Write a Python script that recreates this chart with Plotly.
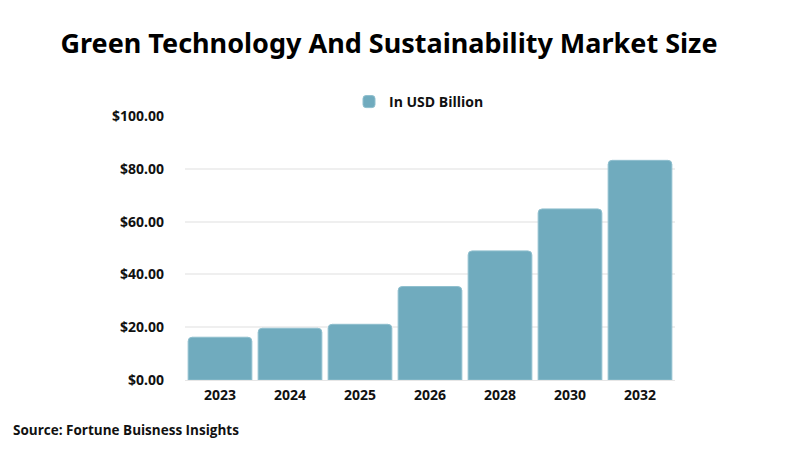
import plotly.graph_objects as go

years = ["2023", "2024", "2025", "2026", "2028", "2030", "2032"]
market_size = [16.2, 19.6, 21.1, 35.4, 48.9, 64.8, 83.2]
y_ticks = [0, 20, 40, 60, 80, 100]
series_name = "In USD Billion"

bar_color = "#70ABBE"

W, H = 800, 451
ML, MR, MT, MB = 185, 125, 116, 71
plot_w = W - ML - MR
plot_h = H - MT - MB


def px_x(x):
    return (x - ML) / plot_w


def px_y(y):
    return (H - MB - y) / plot_h


fig = go.Figure()
fig.add_trace(go.Bar(
    x=years, y=market_size, name=series_name,
    marker=dict(color=bar_color, cornerradius=4,
                line=dict(color="#8FBFCE", width=1)),
    showlegend=True,
))

fig.update_layout(
    width=W, height=H,
    paper_bgcolor="white", plot_bgcolor="white",
    margin=dict(l=ML, r=MR, t=MT, b=MB, autoexpand=False),
    title=dict(text="Green Technology And Sustainability Market Size",
               font=dict(family="Noto Sans", size=27, color="black", weight="bold"),
               x=389 / W, xanchor="center", y=1 - 44 / H, yanchor="middle"),
    bargap=0.09,
    showlegend=True,
    legend=dict(orientation="h", x=px_x(349), xanchor="left", y=px_y(102), yanchor="middle",
                font=dict(family="Open Sans", size=14, color="#111", weight="bold"),
                itemwidth=30, tracegroupgap=0),
    xaxis=dict(type="category", showgrid=False, showline=True, linecolor="#e6e6e6",
               linewidth=1, ticks="", ticklabelstandoff=2,
               tickfont=dict(family="Noto Sans", size=14, color="#111", weight="bold")),
    yaxis=dict(range=[0, 100], tickvals=y_ticks, tickformat="$.2f",
               showgrid=True, gridcolor="#efefef", gridwidth=1.5, zeroline=False,
               ticks="", ticklabelstandoff=20,
               tickfont=dict(family="Noto Sans", size=14, color="#111", weight="bold")),
    annotations=[dict(text="Source: Fortune Buisness Insights", x=px_x(11), y=px_y(430),
                      xref="paper", yref="paper", showarrow=False,
                      font=dict(family="Open Sans", size=13.5, color="#111", weight="bold"),
                      xanchor="left", yanchor="middle")],
)

fig.write_html("out.html", config={"displayModeBar": False},
               post_script="document.body.style.margin='0';")
